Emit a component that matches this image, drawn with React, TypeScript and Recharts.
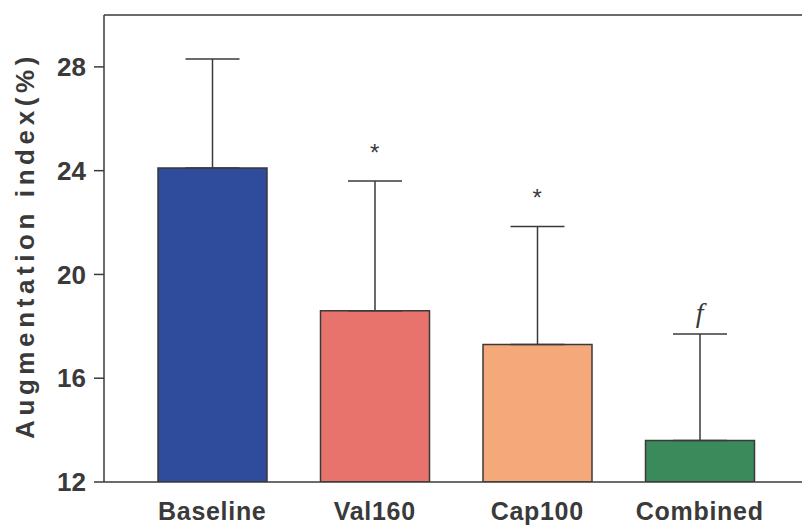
import React from 'react'
import {
  BarChart, Bar, XAxis, YAxis, ErrorBar, ReferenceLine, ReferenceDot, Cell, Label,
} from 'recharts'

// Values (mean, upper SD)
const categories = ['Baseline', 'Val160', 'Cap100', 'Combined']
const means = [24.1, 18.6, 17.3, 13.6]
const sds = [4.2, 5.0, 4.55, 4.1]
const marks = ['', '*', '*', 'f']
const colors = ['#2f4b9c', '#e8736d', '#f5a97a', '#3b8a5c']
const yTicks = [12, 16, 20, 24, 28]

const data = categories.map((name, i) => ({
  name,
  mean: means[i],
  err: [0, sds[i]],
}))

const ink = '#3a3a3a'
const font = '"Liberation Sans", Arial, sans-serif'

export default function App() {
  return (
    <div style={{ width: 802, height: 528, background: '#fff', overflow: 'hidden' }}>
      <style>{'body{margin:0}'}</style>
      <BarChart
        width={802}
        height={528}
        data={data}
        margin={{ top: 15, right: 0, bottom: 0, left: 0 }}
        barSize={109}
      >
        <XAxis
          dataKey="name"
          height={46}
          padding={{ left: 27, right: 21 }}
          axisLine={{ stroke: ink, strokeWidth: 1.5 }}
          tickLine={false}
          tickSize={0}
          tickMargin={20}
          tick={{ fill: ink, fontSize: 25, fontWeight: 700, fontFamily: font, letterSpacing: 0.7 }}
        />
        <YAxis
          width={104}
          domain={[12, 30]}
          ticks={yTicks}
          allowDataOverflow
          axisLine={{ stroke: ink, strokeWidth: 1.5 }}
          tickLine={{ stroke: ink, strokeWidth: 1.5 }}
          tickSize={10}
          tickMargin={8}
          tick={{ fill: ink, fontSize: 26, fontWeight: 700, fontFamily: font }}
        >
          <Label
            value="Augmentation index(%)"
            angle={-90}
            position="center"
            dx={-27}
            dy={-3}
            fill={ink}
            fontSize={26}
            fontWeight={700}
            fontFamily={font}
            letterSpacing={4.6}
          />
        </YAxis>
        <ReferenceLine y={30} stroke={ink} strokeWidth={1.5} />
        <Bar dataKey="mean" stroke={ink} strokeWidth={1.5} isAnimationActive={false}>
          {data.map((d, i) => (
            <Cell key={d.name} fill={colors[i]} />
          ))}
          <ErrorBar dataKey="err" width={27} direction="y" stroke={ink} strokeWidth={1.5} isAnimationActive={false} />
        </Bar>
        {categories.map((c, i) =>
          marks[i] ? (
            <ReferenceDot
              key={c}
              x={c}
              y={means[i] + sds[i]}
              r={0}
              stroke="none"
              label={{
                value: marks[i],
                position: 'top',
                offset: marks[i] === 'f' ? 12 : 20,
                fill: ink,
                fontSize: marks[i] === 'f' ? 28 : 24,
                fontStyle: marks[i] === 'f' ? 'italic' : 'normal',
                fontFamily: marks[i] === 'f' ? '"Liberation Serif", serif' : font,
              }}
            />
          ) : null,
        )}
      </BarChart>
    </div>
  )
}
